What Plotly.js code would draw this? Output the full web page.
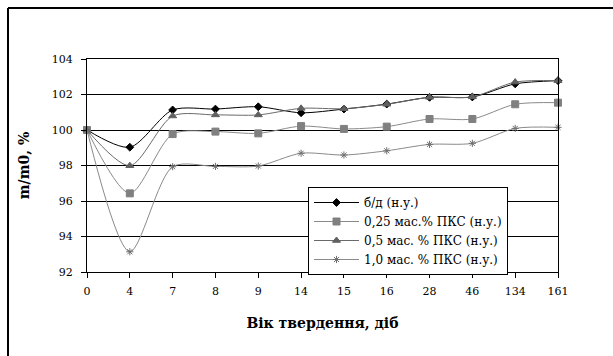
<!DOCTYPE html>
<html>
<head>
<meta charset="utf-8">
<script src="https://cdn.plot.ly/plotly-3.0.1.min.js"></script>
<style>
html,body{margin:0;padding:0;background:#fff;}
#chart{width:613px;height:356px;}
</style>
</head>
<body>
<div id="chart"></div>
<script>
const categories = ["0","4","7","8","9","14","15","16","28","46","134","161"];
const seriesNames = ["б/д (н.у.)","0,25 мас.% ПКС (н.у.)","0,5 мас. % ПКС (н.у.)","1,0 мас. % ПКС (н.у.)"];
const bd      = [100, 99.03, 101.13, 101.18, 101.31, 100.97, 101.18, 101.46, 101.84, 101.86, 102.6, 102.78];
const pks025  = [100, 96.43, 99.77, 99.91, 99.81, 100.22, 100.06, 100.19, 100.62, 100.62, 101.45, 101.54];
const pks05   = [100, 97.99, 100.79, 100.85, 100.85, 101.22, 101.2, 101.45, 101.84, 101.87, 102.7, 102.78];
const pks10   = [100, 93.14, 97.93, 97.95, 97.97, 98.69, 98.59, 98.83, 99.19, 99.25, 100.09, 100.15];
const yTicks  = [92, 94, 96, 98, 100, 102, 104];

const SERIF = "DejaVu Serif, Liberation Serif, serif";
const styles = [
  {color:"#000000", symbol:"diamond", size:6, mcolor:"#000000"},
  {color:"#8a8a8a", symbol:"square", size:7, mcolor:"#808080"},
  {color:"#6a6a6a", symbol:"triangle-up", size:7, mcolor:"#606060"},
  {color:"#8a8a8a", symbol:"asterisk-open", size:6, mcolor:"#707070"}
];
const values = [bd, pks025, pks05, pks10];

const traces = values.map((v,i)=>({
  type:"scatter", mode:"lines+markers", cliponaxis:false,
  x:categories, y:v, name:seriesNames[i],
  line:{color:styles[i].color, width:1, shape:"spline", smoothing:0.8},
  marker:{symbol:styles[i].symbol, size:styles[i].size, color:styles[i].mcolor,
          line:{color:styles[i].mcolor, width:1}}
}));

const L=87, R=558, T=59, B=272;
const pw=R-L, ph=B-T;
const layout = {
  width:613, height:356,
  margin:{l:L, r:613-R, t:T, b:356-B, pad:0},
  paper_bgcolor:"#ffffff", plot_bgcolor:"#ffffff",
  font:{family:SERIF, size:11, color:"#000"},
  showlegend:true,
  legend:{x:(308-L)/pw, y:(B-187)/ph, xanchor:"left", yanchor:"top",
          bgcolor:"#ffffff", bordercolor:"#000000", borderwidth:1,
          font:{family:SERIF, size:12, color:"#000"},
          tracegroupgap:0, itemwidth:45},
  xaxis:{type:"category", categoryorder:"array", categoryarray:categories,
         range:[0, categories.length-1], showgrid:false, zeroline:false,
         showline:true, linecolor:"#000", linewidth:1, mirror:true,
         ticks:"outside", ticklen:5, tickcolor:"#000", ticklabelstandoff:4,
         tickfont:{family:SERIF, size:11, color:"#000"},
         title:{text:"<b>Вік твердення, діб</b>", font:{family:SERIF, size:14, color:"#000"}, standoff:20}},
  yaxis:{range:[92,104], tickvals:yTicks, ticktext:yTicks.map(String),
         showgrid:true, gridcolor:"#000", gridwidth:1, zeroline:false,
         showline:true, linecolor:"#000", linewidth:1, mirror:true,
         ticks:"outside", ticklen:5, tickcolor:"#000", ticklabelstandoff:6,
         tickfont:{family:SERIF, size:11, color:"#000"},
         title:{text:"<b>m/m0, %</b>", font:{family:SERIF, size:14, color:"#000"}, standoff:18}},
  shapes:[
    {type:"line", xref:"paper", yref:"paper", x0:(8-L)/pw, x1:(8-L)/pw, y0:-2, y1:(B-8)/ph,
     line:{color:"#000", width:2}},
    {type:"line", xref:"paper", yref:"paper", x0:(8-L)/pw, x1:3, y0:(B-8)/ph, y1:(B-8)/ph,
     line:{color:"#000", width:2}}
  ]
};

Plotly.newPlot("chart", traces, layout, {displayModeBar:false, staticPlot:true});
</script>
</body>
</html>
